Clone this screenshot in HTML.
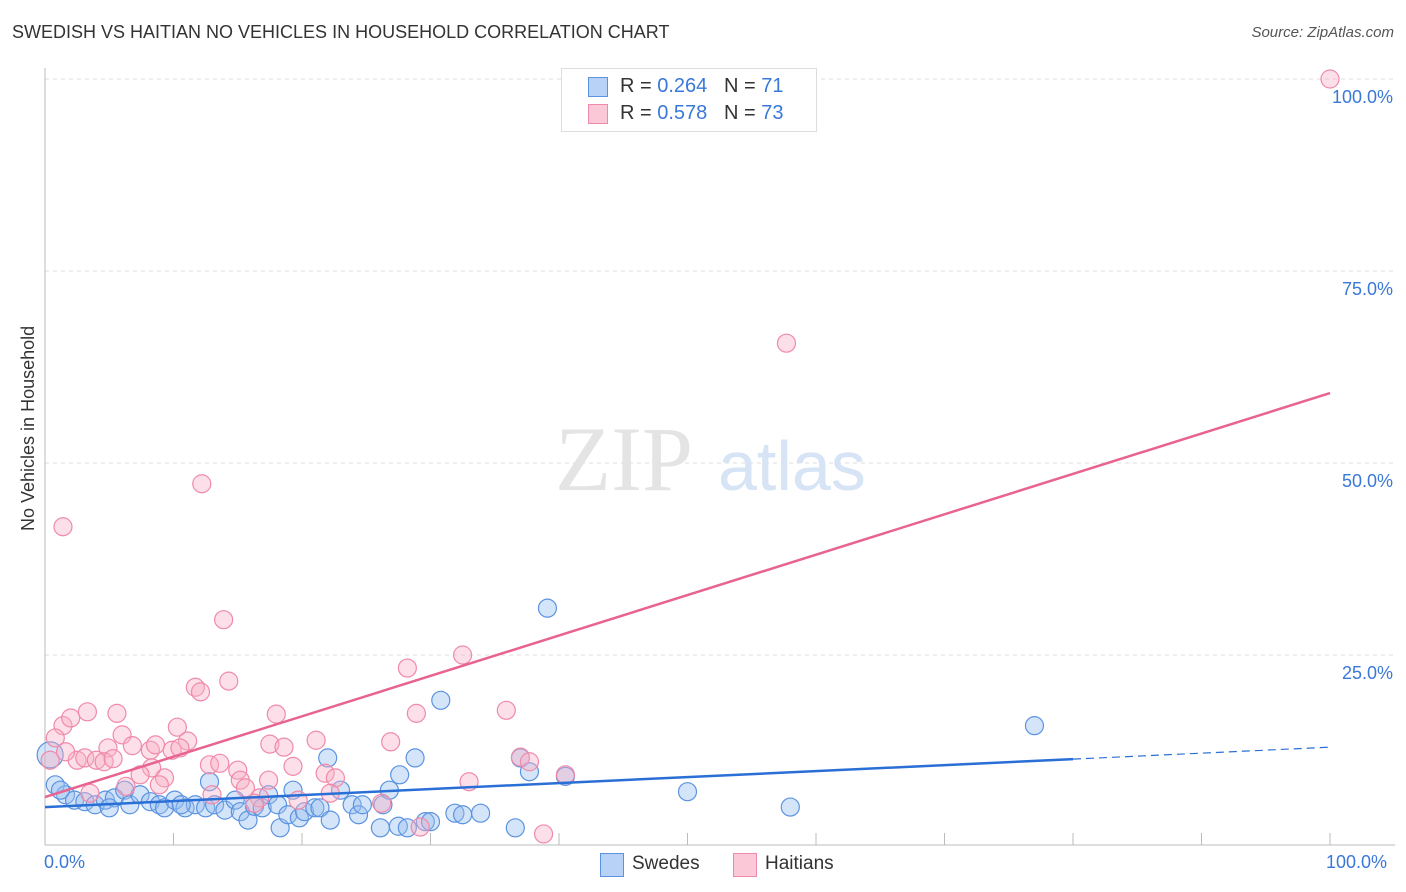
<!DOCTYPE html>
<html><head><meta charset="utf-8">
<style>
body{margin:0;background:#fff;font-family:"Liberation Sans",sans-serif;}
#wrap{position:relative;width:1406px;height:892px;overflow:hidden;}
.t{position:absolute;white-space:nowrap;}
</style></head>
<body>
<div id="wrap">
<div class="t" style="left:12px;top:22px;font-size:18px;color:#333;">SWEDISH VS HAITIAN NO VEHICLES IN HOUSEHOLD CORRELATION CHART</div>
<div class="t" style="right:12px;top:24px;font-size:15px;color:#555;font-style:italic;">Source: ZipAtlas.com</div>
<svg id="chart" width="1406" height="892" style="position:absolute;left:0;top:0"></svg>
</div>
<script>
const blueX=[0.4,0.8,1.6,2.3,3.1,3.9,4.7,5.4,6.2,6.6,7.4,8.2,8.9,9.3,10.1,10.9,11.7,12.5,12.8,13.2,14.0,14.8,15.2,15.8,16.3,16.9,17.4,18.1,18.3,18.9,19.3,19.8,20.2,21.0,21.4,22.0,22.2,23.0,23.9,24.4,24.7,26.1,26.3,26.8,27.5,27.6,28.2,28.8,29.6,30.0,30.8,31.9,32.5,33.9,36.6,37.0,37.7,39.1,40.5,50.0,58.0,77.0,1.2,5.0,10.6];
const blueY=[12.0,8.1,6.8,6.1,5.9,5.5,6.1,6.4,7.4,5.5,6.8,5.9,5.5,5.1,6.1,5.1,5.5,5.1,8.5,5.5,4.8,6.1,4.6,3.5,5.3,5.1,6.8,5.5,2.5,4.2,7.4,3.8,4.6,5.1,5.1,11.6,3.5,7.4,5.5,4.2,5.5,2.5,5.5,7.4,2.7,9.4,2.5,11.6,3.3,3.3,19.1,4.4,4.2,4.4,2.5,11.6,9.8,31.1,9.2,7.2,5.2,15.8,7.4,5.1,5.5];
const pinkX=[100,57.7,12.2,1.4,13.9,32.5,28.2,11.7,12.1,14.3,3.3,5.6,1.4,2.0,10.3,18.0,28.9,35.9,6.0,11.1,21.1,26.9,0.8,4.9,6.8,8.2,8.6,9.9,10.5,17.5,18.6,2.5,3.1,4.0,4.6,5.3,12.8,13.6,15.0,19.3,8.3,7.4,6.3,9.3,8.9,15.2,15.6,17.4,21.8,22.6,22.2,16.7,16.3,19.7,26.2,29.2,33.0,37.0,37.7,40.5,38.8,3.5,13.0,0.4,1.6];
const pinkY=[100,65.6,47.3,41.7,29.6,25.0,23.3,20.8,20.2,21.6,17.6,17.4,15.8,16.8,15.6,17.3,17.4,17.8,14.6,13.8,13.9,13.7,14.2,12.9,13.2,12.6,13.3,12.6,12.9,13.4,13.0,11.3,11.6,11.3,11.1,11.5,10.7,10.9,10.0,10.5,10.3,9.4,7.9,9.0,8.1,8.7,7.7,8.7,9.6,9.0,7.0,6.4,5.7,6.1,5.7,2.6,8.5,11.7,11.1,9.4,1.7,7.0,6.8,11.3,12.4];
const blueTrend=[5.2,13.0];   // value at x=0, x=100
const pinkTrend=[6.5,59.1];
const yTicks=[25,50,75,100];
const yTickLabels=["25.0%","50.0%","75.0%","100.0%"];

const X0=45,X1=1330,Y0=847,Y1=79;
const sx=v=>X0+(X1-X0)*v/100;
const sy=v=>Y0-(Y0-Y1)*v/100;
const NS="http://www.w3.org/2000/svg";
const svg=document.getElementById('chart');
function mk(tag,attrs,parent){const e=document.createElementNS(NS,tag);for(const k in attrs)e.setAttribute(k,attrs[k]);(parent||svg).appendChild(e);return e;}

// gridlines + y labels
yTicks.forEach((t,i)=>{
  const g=mk('line',{x1:X0,x2:1395,y1:sy(t),y2:sy(t),stroke:'#ddd','stroke-dasharray':'4,4'});
  
  
  const tx=mk('text',{x:1393,y:sy(t)+24,'text-anchor':'end','font-size':18,fill:'#3a78d8','font-family':'Liberation Sans, sans-serif'});
  tx.textContent=yTickLabels[i];
  
  
});
// axes
const ax=mk('line',{x1:X0,x2:X0,y1:68,y2:845,stroke:'#bbb'});


const bx=mk('line',{x1:X0,x2:1395,y1:845,y2:845,stroke:'#bbb'});


for(let i=1;i<=10;i++){
  const tk=mk('line',{x1:sx(i*10),x2:sx(i*10),y1:833,y2:845,stroke:'#bbb'});
  
  
}
// watermark
const wm=mk('text',{x:555,y:490,'font-size':92,fill:'#e4e4e4','font-family':'Liberation Serif, serif'});
wm.textContent='ZIP';


const wm2=mk('text',{x:718,y:490,'font-size':70,fill:'#d6e4f6','font-family':'Liberation Sans, sans-serif'});
wm2.textContent='atlas';



// points
blueX.forEach((x,i)=>{
  const c=mk('circle',{cx:sx(x),cy:sy(blueY[i]),r:i===0?13:9,fill:'rgba(150,190,240,0.4)',stroke:'#5b93e0','stroke-width':1.2});
  
  
});
pinkX.forEach((x,i)=>{
  const c=mk('circle',{cx:sx(x),cy:sy(pinkY[i]),r:9,fill:'rgba(248,176,198,0.4)',stroke:'#f08aaa','stroke-width':1.2});
  
  
});
// trends
const ly=v=>blueTrend[0]+(blueTrend[1]-blueTrend[0])*v/100;
const l1=mk('line',{x1:sx(0),y1:sy(ly(0)),x2:sx(80),y2:sy(ly(80)),stroke:'#2a6fd6','stroke-width':2.5});


const l2=mk('line',{x1:sx(80),y1:sy(ly(80)),x2:sx(100),y2:sy(ly(100)),stroke:'#2a6fd6','stroke-width':1.2,'stroke-dasharray':'8,5'});


const l3=mk('line',{x1:sx(0),y1:sy(pinkTrend[0]),x2:sx(100),y2:sy(pinkTrend[1]),stroke:'#e8638f','stroke-width':2.5});


</script>
<div class="t" style="left:44px;top:852px;font-size:18px;color:#3a78d8">0.0%</div>
<div class="t" style="left:1326px;top:852px;font-size:18px;color:#3a78d8">100.0%</div>
<div class="t" style="left:8px;top:456px;font-size:18px;color:#333;transform:translate(0,-50%) rotate(-90deg);transform-origin:center;width:40px;text-align:center;line-height:40px;"><span style="position:relative;left:-55px;display:inline-block;width:150px;">No Vehicles in Household</span></div>
<div style="position:absolute;left:561px;top:68px;width:254px;height:62px;border:1px solid #ddd;background:#fff;font-size:20px;">
 <div style="position:absolute;left:26px;top:8px;width:18px;height:18px;background:#b7d2f6;border:1px solid #5b93e0"></div>
 <div class="t" style="left:58px;top:6px;color:#333">R = <span style="color:#3a78d8">0.264</span>&nbsp;&nbsp;&nbsp;N = <span style="color:#3a78d8">71</span></div>
 <div style="position:absolute;left:26px;top:35px;width:18px;height:18px;background:#fbc8d8;border:1px solid #f08aaa"></div>
 <div class="t" style="left:58px;top:33px;color:#333">R = <span style="color:#3a78d8">0.578</span>&nbsp;&nbsp;&nbsp;N = <span style="color:#3a78d8">73</span></div>
</div>
<div style="position:absolute;left:600px;top:853px;width:22px;height:22px;background:#b7d2f6;border:1px solid #5b93e0"></div>
<div class="t" style="left:632px;top:853px;font-size:19px;color:#333">Swedes</div>
<div style="position:absolute;left:733px;top:853px;width:22px;height:22px;background:#fbc8d8;border:1px solid #f08aaa"></div>
<div class="t" style="left:765px;top:853px;font-size:19px;color:#333">Haitians</div>
</body></html>
